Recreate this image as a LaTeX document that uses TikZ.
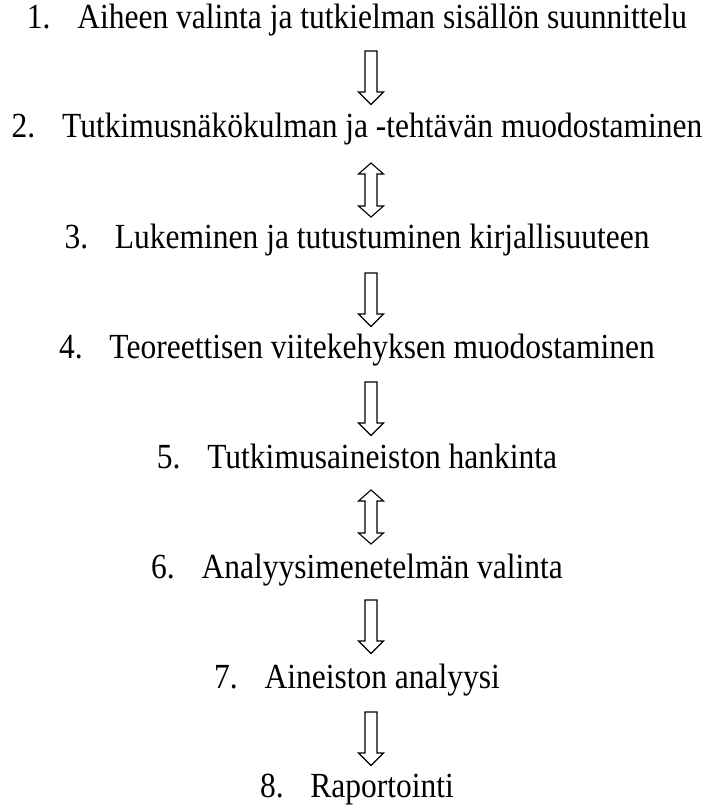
\documentclass[tikz,border=0pt]{standalone}
\usepackage{fontspec}
\setmainfont{Liberation Serif}
\tikzset{
  step label/.style={anchor=base, inner sep=0pt, font=\fontsize{31.5}{34}\selectfont},
  arrowshape/.style={draw=black, line width=1.1pt, fill=white, line join=miter},
}
\newcommand{\num}[1]{#1.\hspace{0.85em}}
\newcommand{\tall}[1]{\scalebox{1}[1.12]{#1}}
\begin{document}
\begin{tikzpicture}[x=1pt,y=-1pt]
\useasboundingbox (0,0) rectangle (714,811);
\def\cx{357}
\node[step label] (s1) at (\cx,28) {\tall{\num{1}Aiheen valinta ja tutkielman sisällön suunnittelu}};
\node[step label] (s2) at (\cx,137) {\tall{\num{2}Tutkimusnäkökulman ja -tehtävän muodostaminen}};
\node[step label] (s3) at (\cx,248) {\tall{\num{3}Lukeminen ja tutustuminen kirjallisuuteen}};
\node[step label] (s4) at (\cx,358) {\tall{\num{4}Teoreettisen viitekehyksen muodostaminen}};
\node[step label] (s5) at (\cx,468) {\tall{\num{5}Tutkimusaineiston hankinta}};
\node[step label] (s6) at (\cx,578) {\tall{\num{6}Analyysimenetelmän valinta}};
\node[step label] (s7) at (\cx,688) {\tall{\num{7}Aineiston analyysi}};
\node[step label] (s8) at (\cx,797) {\tall{\num{8}Raportointi}};
% single down arrows: top y
\foreach \t/\n in {51/a1,273/a3,382/a4,600/a6,712/a7}{
  \draw[arrowshape] (365,\t) -- (377,\t) -- (377,\t+41) -- (383.5,\t+41) -- (371,\t+53.5) -- (358.5,\t+41) -- (365,\t+41) -- cycle;
}
% double arrows: top tip y
\foreach \t/\n in {163/a2,490/a5}{
  \draw[arrowshape] (371,\t) -- (383.5,\t+11) -- (377,\t+11) -- (377,\t+43) -- (383.5,\t+43) -- (371,\t+54) -- (358.5,\t+43) -- (365,\t+43) -- (365,\t+11) -- (358.5,\t+11) -- cycle;
}
\end{tikzpicture}
\end{document}
